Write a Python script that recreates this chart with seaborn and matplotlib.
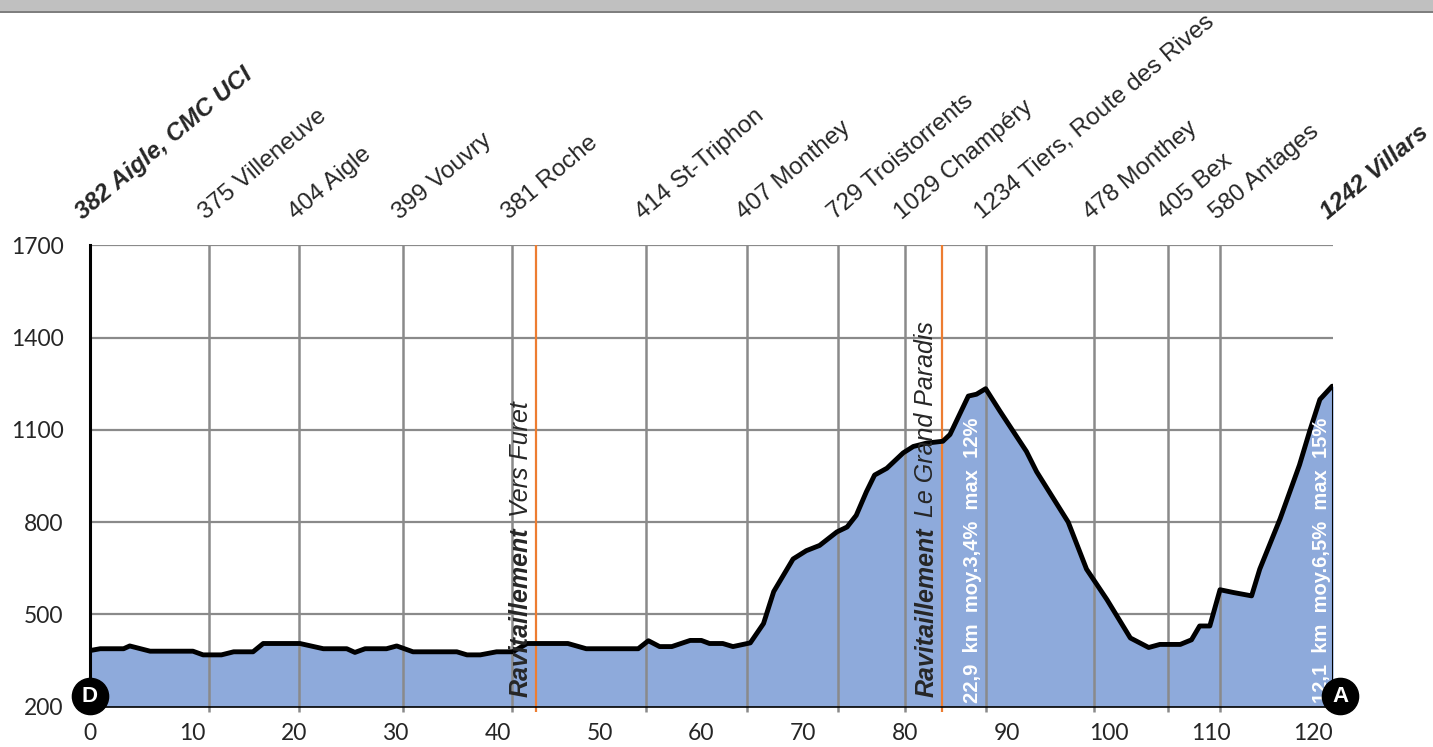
import matplotlib
matplotlib.use("Agg")
import matplotlib.pyplot as plt
import seaborn as sns
from matplotlib.patches import Rectangle

# elevation profile (km, m)
km = [0, 1.0, 3.3, 3.9, 5.9, 10.1, 11.1, 12.9, 14.1, 16.0, 17.0, 20.6, 22.9, 25.2,
      26.0, 27.0, 29.1, 30.1, 31.7, 36.0, 37.0, 38.3, 39.9, 41.5, 42.9, 46.9, 48.7,
      53.8, 54.8, 55.9, 57.1, 58.9, 60.0, 60.8, 62.1, 63.1, 64.8, 66.1, 67.1, 69.0,
      70.3, 71.6, 73.3, 74.3, 75.2, 76.2, 77.0, 78.2, 79.8, 80.8, 82.1, 83.7, 84.4,
      86.2, 87.0, 87.9, 89.3, 91.9, 92.9, 96.0, 97.8, 99.8, 102.1, 103.9, 105.0,
      107.0, 108.1, 108.9, 109.9, 110.9, 112.2, 114.0, 114.8, 116.8, 118.7, 119.7,
      120.7, 121.9, 122.0]
elev = [382, 388, 388, 397, 380, 380, 368, 368, 378, 378, 405, 405, 388, 388,
        376, 388, 388, 397, 378, 378, 368, 368, 378, 378, 405, 405, 388,
        388, 414, 395, 395, 415, 415, 405, 405, 395, 407, 470, 574, 680,
        707, 724, 768, 784, 822, 899, 953, 975, 1025, 1046, 1057, 1063, 1085,
        1210, 1216, 1234, 1161, 1030, 964, 800, 647, 548, 423, 392, 402,
        402, 417, 462, 462, 580, 571, 560, 647, 811, 986, 1096,
        1199, 1242, 1242]

# waypoints
wp_km = [0, 11.7, 20.5, 30.7, 41.4, 54.6, 64.5, 73.4, 80.0, 87.9, 98.5, 105.8, 110.9, 122.0]
wp_labels = ["382 Aigle, CMC UCI", "375 Villeneuve", "404 Aigle", "399 Vouvry",
             "381 Roche", "414 St-Triphon", "407 Monthey", "729 Troistorrents",
             "1029 Champéry", "1234 Tiers, Route des Rives", "478 Monthey",
             "405 Bex", "580 Antages", "1242 Villars"]

# feed zones
ravito_km = [43.8, 83.6]
ravito_names = ["Vers Furet", "Le Grand Paradis"]

# climbs
climb_km = [86.6, 120.9]
climb_text = ["22,9  km  moy.3,4%  max  12%", "12,1  km  moy.6,5%  max  15%"]

y_ticks = [200, 500, 800, 1100, 1400, 1700]
x_ticks = list(range(0, 121, 10))

sns.set_style("white")
plt.rcParams['font.family'] = ['Liberation Sans', 'DejaVu Sans']

fig = plt.figure(figsize=(14.33, 7.47), dpi=100)
# window strip at the top
fig.patches.append(Rectangle((0, 1 - 11 / 747), 1, 11 / 747, transform=fig.transFigure,
                             facecolor='#c0c0c0', edgecolor='none'))
fig.patches.append(Rectangle((0, 1 - 13 / 747), 1, 2 / 747, transform=fig.transFigure,
                             facecolor='#7f7f7f', edgecolor='none'))

ax = fig.add_axes([0.0628, 0.0542, 0.8675, 0.6172])
ax.set_xlim(0, 122)
ax.set_ylim(200, 1700)

for y in y_ticks[1:]:
    ax.axhline(y, color='#8a8a8a', lw=1.6, zorder=0)

ax.fill_between(km, 200, elev, color='#8eaadb', lw=0, zorder=1)

ax.vlines(wp_km[1:-1], 183, 1700, color='#8a8a8a', lw=1.8, zorder=2, clip_on=False)
ax.vlines(ravito_km, 183, 1700, color='#ed7d31', lw=1.6, zorder=2, clip_on=False)

sns.lineplot(x=km, y=elev, color='black', linewidth=3.5, ax=ax, zorder=4)
ax.plot([km[-1], km[-1]], [200, elev[-1]], color='black', lw=2.2, zorder=4)

for i, (x, lab) in enumerate(zip(wp_km, wp_labels)):
    bold = i == 0 or i == len(wp_km) - 1
    xx = x
    if i == 0:
        xx = x - 0.4
    elif i == len(wp_km) - 1:
        xx = x - 0.2
    ax.text(xx, 1.047, lab, transform=ax.get_xaxis_transform(), rotation=40,
            rotation_mode='anchor', ha='left', va='bottom', fontsize=17.5,
            fontweight='bold' if bold else 'normal',
            fontstyle='italic' if bold else 'normal', clip_on=False)

for x, name in zip(ravito_km, ravito_names):
    t = ax.text(x - 0.35, 232, "Ravitaillement", rotation=90, ha='right', va='bottom',
                fontsize=18, fontweight='bold', fontstyle='italic', zorder=5)
    ax.annotate(name, xy=(1, 1), xycoords=t, xytext=(0, 7), textcoords='offset points',
                rotation=90, ha='right', va='bottom', fontsize=18, fontstyle='italic',
                zorder=5)

for x, s in zip(climb_km, climb_text):
    ax.text(x, 210, s, rotation=90, ha='center', va='bottom', fontsize=14.5,
            fontweight='bold', color='white', zorder=5)

for x, s in [(0, 'D'), (122.7, 'A')]:
    ax.scatter([x], [233], s=680, color='black', zorder=6, clip_on=False)
    ax.text(x, 233, s, ha='center', va='center', fontsize=16, fontweight='bold',
            color='white', zorder=7, clip_on=False)

ax.set_xticks(x_ticks)
ax.set_yticks(y_ticks)
ax.set_xticklabels([str(v) for v in x_ticks], fontsize=16.5, family='Lato')
ax.set_yticklabels([str(v) for v in y_ticks], fontsize=16.5, family='Lato')
ax.tick_params(axis='x', length=7, width=1.6, color='#8a8a8a', pad=5)
ax.tick_params(axis='y', length=8, width=1.6, color='black', pad=11)

for side in ['top', 'right']:
    ax.spines[side].set_visible(False)
ax.spines['left'].set_color('black')
ax.spines['left'].set_linewidth(2.2)
ax.spines['bottom'].set_color('black')
ax.spines['bottom'].set_linewidth(1.2)
ax.set_xlabel("")
ax.set_ylabel("")

fig.savefig("out.png", dpi=100)
